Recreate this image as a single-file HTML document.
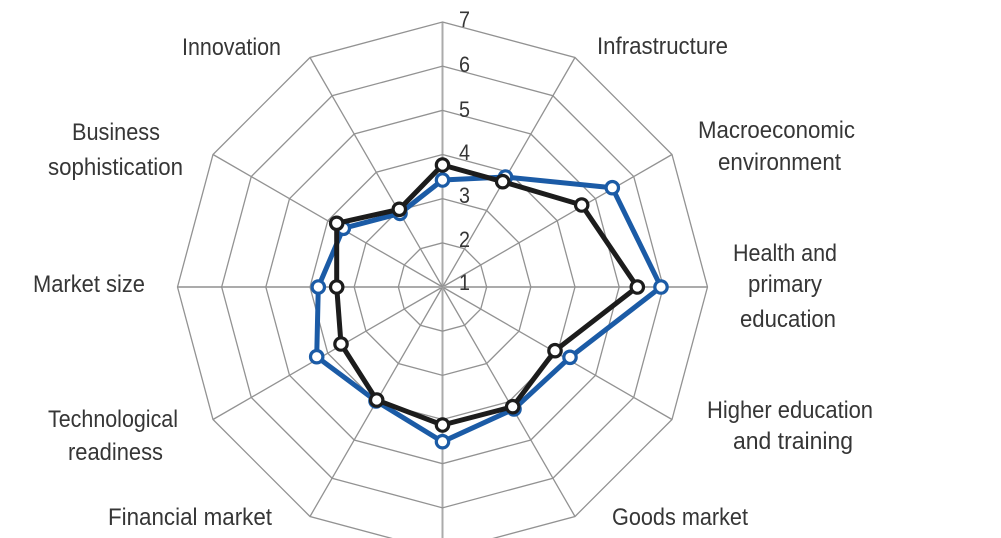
<!DOCTYPE html>
<html><head><meta charset="utf-8"><style>
html,body{margin:0;padding:0;background:#fff;}
svg{display:block;}
text{font-family:"Liberation Sans",sans-serif;fill:#363636;}
</style></head><body>
<svg width="1001" height="538" viewBox="0 0 1001 538" xmlns="http://www.w3.org/2000/svg">
<rect width="1001" height="538" fill="#fff"/>
<g transform="translate(442.5,287)" fill="none" stroke="#929292" stroke-width="1.3">
  <g id="spokes">
    <line x1="0" y1="0" x2="0" y2="-265" stroke="#ababab" stroke-width="2"/>
    <line x1="0" y1="0" x2="132.5" y2="-229.5"/>
    <line x1="0" y1="0" x2="229.5" y2="-132.5"/>
    <line x1="0" y1="0" x2="265" y2="0" stroke="#ababab" stroke-width="2"/>
    <line x1="0" y1="0" x2="229.5" y2="132.5"/>
    <line x1="0" y1="0" x2="132.5" y2="229.5"/>
    <line x1="0" y1="0" x2="0" y2="265" stroke="#ababab" stroke-width="2"/>
    <line x1="0" y1="0" x2="-132.5" y2="229.5"/>
    <line x1="0" y1="0" x2="-229.5" y2="132.5"/>
    <line x1="0" y1="0" x2="-265" y2="0" stroke="#ababab" stroke-width="2"/>
    <line x1="0" y1="0" x2="-229.5" y2="-132.5"/>
    <line x1="0" y1="0" x2="-132.5" y2="-229.5"/>
  </g>
  <polygon transform="scale(44.17)" vector-effect="non-scaling-stroke" points="0,-1 0.5,-0.866 0.866,-0.5 1,0 0.866,0.5 0.5,0.866 0,1 -0.5,0.866 -0.866,0.5 -1,0 -0.866,-0.5 -0.5,-0.866"/>
  <polygon transform="scale(88.33)" vector-effect="non-scaling-stroke" points="0,-1 0.5,-0.866 0.866,-0.5 1,0 0.866,0.5 0.5,0.866 0,1 -0.5,0.866 -0.866,0.5 -1,0 -0.866,-0.5 -0.5,-0.866"/>
  <polygon transform="scale(132.5)" vector-effect="non-scaling-stroke" points="0,-1 0.5,-0.866 0.866,-0.5 1,0 0.866,0.5 0.5,0.866 0,1 -0.5,0.866 -0.866,0.5 -1,0 -0.866,-0.5 -0.5,-0.866"/>
  <polygon transform="scale(176.67)" vector-effect="non-scaling-stroke" points="0,-1 0.5,-0.866 0.866,-0.5 1,0 0.866,0.5 0.5,0.866 0,1 -0.5,0.866 -0.866,0.5 -1,0 -0.866,-0.5 -0.5,-0.866"/>
  <polygon transform="scale(220.83)" vector-effect="non-scaling-stroke" points="0,-1 0.5,-0.866 0.866,-0.5 1,0 0.866,0.5 0.5,0.866 0,1 -0.5,0.866 -0.866,0.5 -1,0 -0.866,-0.5 -0.5,-0.866"/>
  <polygon transform="scale(265)" vector-effect="non-scaling-stroke" points="0,-1 0.5,-0.866 0.866,-0.5 1,0 0.866,0.5 0.5,0.866 0,1 -0.5,0.866 -0.866,0.5 -1,0 -0.866,-0.5 -0.5,-0.866"/>
</g>

<!-- tick labels -->
<g font-size="22">
  <text x="459" y="27" textLength="11" lengthAdjust="spacingAndGlyphs">7</text>
  <text x="459" y="72" textLength="11" lengthAdjust="spacingAndGlyphs">6</text>
  <text x="459" y="117" textLength="11" lengthAdjust="spacingAndGlyphs">5</text>
  <text x="459" y="160" textLength="11" lengthAdjust="spacingAndGlyphs">4</text>
  <text x="459" y="203" textLength="11" lengthAdjust="spacingAndGlyphs">3</text>
  <text x="459" y="247" textLength="11" lengthAdjust="spacingAndGlyphs">2</text>
  <text x="459" y="290" textLength="11" lengthAdjust="spacingAndGlyphs">1</text>
</g>

<!-- blue series -->
<polygon fill="none" stroke="#1b5ba6" stroke-width="5" stroke-linejoin="round"
 points="442.5,180 505.5,177 612.3,187.7 661,287 570,357.3 514,409 442.5,441.7 376,401 316.7,356.7 318.3,287 343.3,228.3 400,213.4"/>
<g fill="#fff" stroke="#1b5ba6" stroke-width="3.2">
  <circle cx="442.5" cy="180" r="6.2"/><circle cx="505.5" cy="177" r="6.2"/><circle cx="612.3" cy="187.7" r="6.2"/>
  <circle cx="661" cy="287" r="6.2"/><circle cx="570" cy="357.3" r="6.2"/><circle cx="514" cy="409" r="6.2"/>
  <circle cx="442.5" cy="441.7" r="6.2"/><circle cx="376" cy="401" r="6.2"/><circle cx="316.7" cy="356.7" r="6.2"/>
  <circle cx="318.3" cy="287" r="6.2"/><circle cx="343.3" cy="228.3" r="6.2"/><circle cx="400" cy="213.4" r="6.2"/>
</g>

<!-- black series -->
<polygon fill="none" stroke="#1c1c1c" stroke-width="5" stroke-linejoin="round"
 points="442.5,165 502.7,181.7 581.7,205 637.3,287 555,350.7 512.7,406.7 442.5,425 376.7,400 341,344 336.7,287 336.7,223.3 399.3,209.3"/>
<g fill="#fff" stroke="#1c1c1c" stroke-width="3.2">
  <circle cx="442.5" cy="165" r="6.2"/><circle cx="502.7" cy="181.7" r="6.2"/><circle cx="581.7" cy="205" r="6.2"/>
  <circle cx="637.3" cy="287" r="6.2"/><circle cx="555" cy="350.7" r="6.2"/><circle cx="512.7" cy="406.7" r="6.2"/>
  <circle cx="442.5" cy="425" r="6.2"/><circle cx="376.7" cy="400" r="6.2"/><circle cx="341" cy="344" r="6.2"/>
  <circle cx="336.7" cy="287" r="6.2"/><circle cx="336.7" cy="223.3" r="6.2"/><circle cx="399.3" cy="209.3" r="6.2"/>
</g>

<!-- category labels -->
<g font-size="24">
  <text x="392" y="-2" textLength="100" lengthAdjust="spacingAndGlyphs" style="fill:#999">Institutions</text>
  <text x="182" y="55" textLength="99" lengthAdjust="spacingAndGlyphs">Innovation</text>
  <text x="72" y="140" textLength="88" lengthAdjust="spacingAndGlyphs">Business</text>
  <text x="48" y="175" textLength="135" lengthAdjust="spacingAndGlyphs">sophistication</text>
  <text x="597" y="54" textLength="131" lengthAdjust="spacingAndGlyphs">Infrastructure</text>
  <text x="698" y="138" textLength="157" lengthAdjust="spacingAndGlyphs">Macroeconomic</text>
  <text x="718" y="170" textLength="123" lengthAdjust="spacingAndGlyphs">environment</text>
  <text x="733" y="261" textLength="104" lengthAdjust="spacingAndGlyphs">Health and</text>
  <text x="748" y="292" textLength="74" lengthAdjust="spacingAndGlyphs">primary</text>
  <text x="740" y="327" textLength="96" lengthAdjust="spacingAndGlyphs">education</text>
  <text x="707" y="418" textLength="166" lengthAdjust="spacingAndGlyphs">Higher education</text>
  <text x="733" y="449" textLength="120" lengthAdjust="spacingAndGlyphs">and training</text>
  <text x="612" y="525" textLength="136" lengthAdjust="spacingAndGlyphs">Goods market</text>
  <text x="108" y="525" textLength="164" lengthAdjust="spacingAndGlyphs">Financial market</text>
  <text x="48" y="427" textLength="130" lengthAdjust="spacingAndGlyphs">Technological</text>
  <text x="68" y="460" textLength="95" lengthAdjust="spacingAndGlyphs">readiness</text>
  <text x="33" y="292" textLength="112" lengthAdjust="spacingAndGlyphs">Market size</text>
</g>
</svg>
</body></html>
